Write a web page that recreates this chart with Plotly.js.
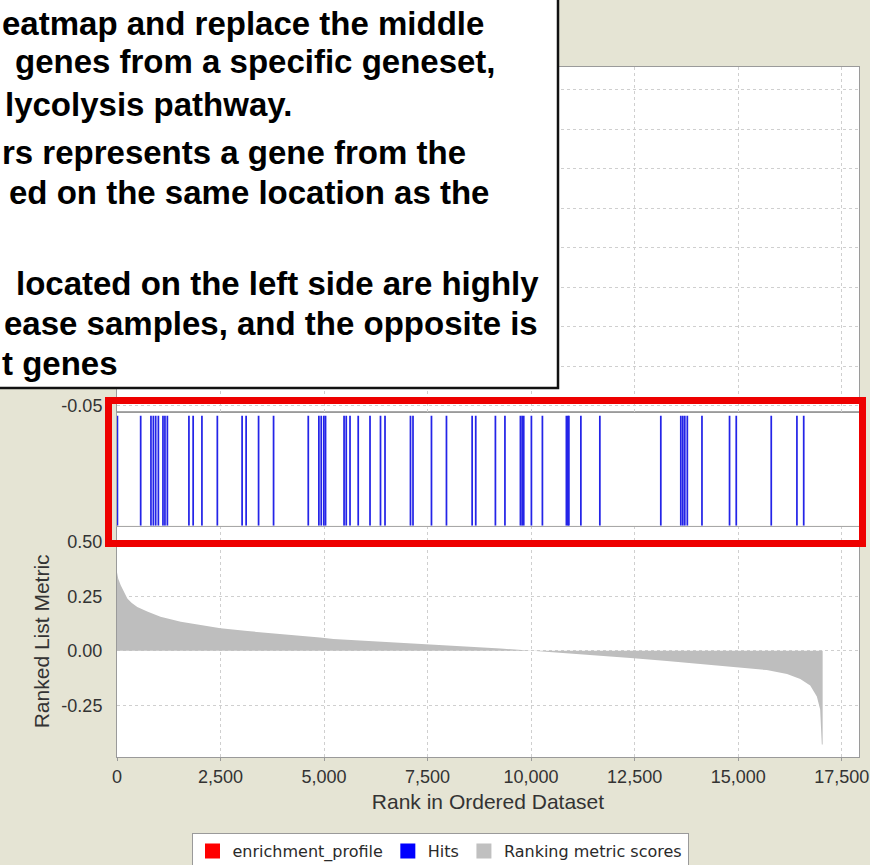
<!DOCTYPE html>
<html>
<head>
<meta charset="utf-8">
<script src="https://cdn.plot.ly/plotly-3.0.1.min.js"></script>
<style>
html,body{margin:0;padding:0;background:#e6e4d4;}
#chart{width:870px;height:865px;}
</style>
</head>
<body>
<div id="chart"></div>
<script>
// ---------------- DATA ----------------
// Ranked list metric (rank position, metric value)
const rankPositions = [0, 30, 90, 170, 250, 350, 490, 730, 1050, 1540, 2020, 2500, 3150, 3800, 4270, 4900, 5230, 5900, 6580, 7250, 7900, 8600, 9260, 10030, 10600, 11300, 11940, 12480, 13280, 14080, 14890, 15690, 16180, 16500, 16740, 16900, 16980, 17020, 17040];
const rankMetric = [0.36, 0.33, 0.30, 0.27, 0.24, 0.22, 0.20, 0.18, 0.156, 0.133, 0.118, 0.103, 0.09, 0.08, 0.072, 0.06, 0.054, 0.047, 0.04, 0.032, 0.023, 0.016, 0.01, 0.0, -0.008, -0.016, -0.024, -0.035, -0.047, -0.06, -0.073, -0.089, -0.107, -0.13, -0.16, -0.21, -0.27, -0.43, -0.43];

// Positions (rank) of the gene-set hits
const hitRanks = [10, 572, 820, 878, 934, 999, 1110, 1158, 1216, 1737, 1839, 2051, 2423, 3021, 3118, 3419, 3781, 4619, 4875, 4932, 4995, 5036, 5483, 5536, 5627, 5825, 6110, 6363, 6472, 7087, 7148, 7594, 7956, 8576, 8663, 9138, 9368, 9742, 9783, 9822, 10007, 10273, 10852, 10888, 10912, 11202, 11660, 13132, 13615, 13663, 13711, 13772, 14126, 14792, 14954, 15799, 16419, 16583];

// Tick values / labels
const xTickVals = [0, 2500, 5000, 7500, 10000, 12500, 15000, 17500];
const xTickText = ["0", "2,500", "5,000", "7,500", "10,000", "12,500", "15,000", "17,500"];
const metricTickVals = [-0.25, 0, 0.25, 0.5];
const metricTickText = ["-0.25", "0.00", "0.25", "0.50"];
const esTickVals = [-0.05, 0, 0.05, 0.1, 0.15, 0.2, 0.25, 0.3, 0.35];
// only -0.05 is visible; the other labels sit under the overlay note
const esTickText = ["-0.05", "", "", "", "", "", "", "", ""];

// Legend entries
const legendNames = ["enrichment_profile", "Hits", "Ranking metric scores"];
const legendColors = ["#ff0000", "#0000ff", "#c0c0c0"];

// Overlay text box lines (as visible in the picture)
const noteLines = [
  "eatmap and replace the middle",
  "genes from a specific geneset,",
  "lycolysis pathway.",
  "rs represents a gene from the",
  "ed on the same location as the",
  "located on the left side are highly",
  "ease samples, and the opposite is",
  "t genes"
];

// ---------------- LAYOUT HELPERS ----------------
const W = 870, H = 865;
const M = {l: 117, r: 11, t: 67, b: 108, autoexpand: false};
const PW = W - M.l - M.r, PH = H - M.t - M.b;
const px2x = px => (px - M.l) / PW;
const py2y = py => (H - M.b - py) / PH;

const noteX = [0, 13, 3, 0, 7, 14, 2, 0];
const noteY = [23, 62, 105, 152, 193, 283, 323, 363];

const axisFont = {family: "Liberation Sans, Arial, sans-serif", size: 18, color: "#333"};
const gridCol = "#cfcfcf";
const lineCol = "#9a9a9a";
const xRange = [0, 17918];

const traces = [];
// legend-only entries
legendNames.forEach((n, i) => {
  traces.push({
    type: "scatter", mode: "markers", x: [null], y: [null],
    xaxis: "x3", yaxis: "y3", name: n,
    marker: {symbol: "square", size: 15, color: legendColors[i], line: {width: 0}},
    hoverinfo: "skip"
  });
});
// Ranking metric scores
traces.push({
  type: "scatter", mode: "lines", x: rankPositions, y: rankMetric,
  xaxis: "x", yaxis: "y", fill: "tozeroy", fillcolor: "#bebebe",
  line: {width: 0, color: "#bebebe"}, showlegend: false, hoverinfo: "skip"
});
// Hits
traces.push({
  type: "bar", x: hitRanks, y: hitRanks.map(() => 1), width: 42,
  xaxis: "x2", yaxis: "y2", marker: {color: "#2424e8", line: {width: 0}},
  showlegend: false, hoverinfo: "skip"
});

const dRank = [0, py2y(525.7)];
const dHits = [py2y(525.7), py2y(411.7)];
const dES = [py2y(411.7), 1];

const annotations = noteLines.map((t, i) => ({
  xref: "paper", yref: "paper", x: px2x(noteX[i]), y: py2y(noteY[i]),
  xanchor: "left", yanchor: "middle", showarrow: false, text: t,
  font: {family: "Liberation Sans, Arial, sans-serif", size: 33, color: "#000", weight: "bold"}
}));

const layout = {
  width: W, height: H,
  margin: M,
  paper_bgcolor: "#e5e4d4",
  plot_bgcolor: "#ffffff",
  showlegend: true,
  legend: {
    orientation: "h", x: px2x(440), xanchor: "center", y: py2y(833), yanchor: "top",
    bgcolor: "#ffffff", bordercolor: "#9a9a9a", borderwidth: 1,
    font: {family: "DejaVu Sans, sans-serif", size: 16, color: "#2a2a2a"},
    itemclick: false, itemdoubleclick: false
  },
  xaxis: {
    domain: [0, 1], range: xRange, anchor: "y",
    tickvals: xTickVals, ticktext: xTickText, tickfont: axisFont,
    ticks: "outside", ticklen: 3, tickcolor: lineCol,
    showline: true, linecolor: lineCol, linewidth: 1,
    showgrid: true, gridcolor: gridCol, griddash: "dot", zeroline: false,
    automargin: false,
    title: {text: "Rank in Ordered Dataset", font: {family: "Liberation Sans, Arial, sans-serif", size: 21, color: "#333"}, standoff: 8}
  },
  xaxis2: {
    domain: [0, 1], range: xRange, anchor: "y2",
    showticklabels: false, ticks: "", showgrid: false, zeroline: false,
    showline: true, mirror: true, linecolor: "#a8a8a8", linewidth: 1
  },
  xaxis3: {
    domain: [0, 1], range: xRange, anchor: "y3",
    showticklabels: false, ticks: "", tickvals: xTickVals,
    showgrid: true, gridcolor: gridCol, griddash: "dot", zeroline: false,
    showline: true, mirror: true, linecolor: lineCol, linewidth: 1
  },
  yaxis: {
    domain: dRank, range: [-0.4876, 0.5734], anchor: "x",
    tickvals: metricTickVals, ticktext: metricTickText, tickfont: axisFont,
    ticks: "", ticklabelstandoff: 10, automargin: false,
    showgrid: true, gridcolor: gridCol, griddash: "dot", zeroline: false,
    showline: true, mirror: true, linecolor: lineCol, linewidth: 1,
    title: {text: "Ranked List Metric", font: {family: "Liberation Sans, Arial, sans-serif", size: 21, color: "#333"}, standoff: 6}
  },
  yaxis2: {
    domain: dHits, range: [0, 1.036], anchor: "x2",
    showticklabels: false, ticks: "", showgrid: false, zeroline: false,
    showline: true, mirror: true, linecolor: "#a8a8a8", linewidth: 1
  },
  yaxis3: {
    domain: dES, range: [-0.0576, 0.3787], anchor: "x3",
    tickvals: esTickVals, ticktext: esTickText, tickfont: axisFont,
    ticks: "", ticklabelstandoff: 10, automargin: false,
    showgrid: true, gridcolor: gridCol, griddash: "dot", zeroline: false,
    showline: true, mirror: true, linecolor: lineCol, linewidth: 1
  },
  shapes: [
    {type: "rect", xref: "paper", yref: "paper", layer: "above",
     x0: px2x(-4), x1: px2x(558), y0: py2y(388), y1: py2y(-4),
     fillcolor: "#ffffff", line: {color: "#111", width: 2.5}},
    {type: "rect", xref: "paper", yref: "paper", layer: "above",
     x0: px2x(108.5), x1: px2x(862.5), y0: py2y(543.5), y1: py2y(400.5),
     fillcolor: "rgba(0,0,0,0)", line: {color: "#ee0000", width: 7}}
  ],
  annotations: annotations
};

Plotly.newPlot("chart", traces, layout, {displayModeBar: false, staticPlot: true});
</script>
</body>
</html>
